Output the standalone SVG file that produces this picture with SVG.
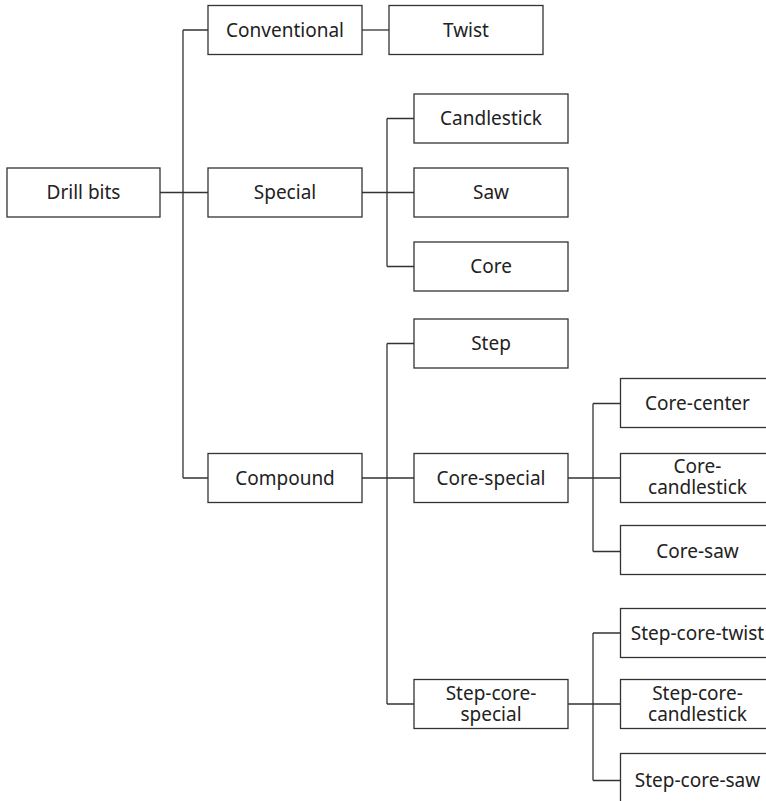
<svg xmlns="http://www.w3.org/2000/svg" width="766" height="801" viewBox="0 0 766 801">
  <style>
    .box { fill: #ffffff; stroke: #333333; stroke-width: 1.3; }
    .lbl { font-family: "Noto Sans", "Open Sans", sans-serif; font-size: 19px; fill: #222222; text-anchor: middle; }
    .wire { fill: none; stroke: #333333; stroke-width: 1.3; }
  </style>
  <rect width="766" height="801" fill="#ffffff"/>

  <!-- connectors -->
  <g id="connectors">
    <path class="wire" d="M160 192.5 H208 M183 30 V478 M183 30 H208 M183 478 H208"/>
    <path class="wire" d="M362 30 H389"/>
    <path class="wire" d="M362 192.5 H414 M387 118.5 V266.5 M387 118.5 H414 M387 266.5 H414"/>
    <path class="wire" d="M362 478 H414 M387 343.5 V704 M387 343.5 H414 M387 704 H414"/>
    <path class="wire" d="M568 478 H620.5 M593 403.5 V551.5 M593 403.5 H620.5 M593 551.5 H620.5"/>
    <path class="wire" d="M568 704 H620.5 M593 633 V780.5 M593 633 H620.5 M593 780.5 H620.5"/>
  </g>

  <!-- level 0 -->
  <g id="drill-bits"><rect class="box" x="7" y="168" width="153" height="49"/><text class="lbl" x="83.5" y="199">Drill bits</text></g>

  <!-- level 1 -->
  <g id="conventional"><rect class="box" x="208" y="5.5" width="154" height="49"/><text class="lbl" x="285" y="36.5">Conventional</text></g>
  <g id="special"><rect class="box" x="208" y="168" width="154" height="49"/><text class="lbl" x="285" y="199">Special</text></g>
  <g id="compound"><rect class="box" x="208" y="453.5" width="154" height="49"/><text class="lbl" x="285" y="484.5">Compound</text></g>

  <!-- level 2 -->
  <g id="twist"><rect class="box" x="389" y="5.5" width="154" height="49"/><text class="lbl" x="466" y="36.5">Twist</text></g>
  <g id="candlestick"><rect class="box" x="414" y="94" width="154" height="49"/><text class="lbl" x="491" y="125">Candlestick</text></g>
  <g id="saw"><rect class="box" x="414" y="168" width="154" height="49"/><text class="lbl" x="491" y="199">Saw</text></g>
  <g id="core"><rect class="box" x="414" y="242" width="154" height="49"/><text class="lbl" x="491" y="273">Core</text></g>
  <g id="step"><rect class="box" x="414" y="319" width="154" height="49"/><text class="lbl" x="491" y="350">Step</text></g>
  <g id="core-special"><rect class="box" x="414" y="453.5" width="154" height="49"/><text class="lbl" x="491" y="484.5">Core-special</text></g>
  <g id="step-core-special"><rect class="box" x="414" y="679.5" width="154" height="49"/><text class="lbl" x="491" y="700">Step-core-<tspan x="491" dy="20.5">special</tspan></text></g>

  <!-- level 3 -->
  <g id="core-center"><rect class="box" x="620.5" y="378.5" width="154" height="49"/><text class="lbl" x="697.5" y="409.5">Core-center</text></g>
  <g id="core-candlestick"><rect class="box" x="620.5" y="453.5" width="154" height="49"/><text class="lbl" x="697.5" y="473">Core-<tspan x="697.5" dy="20.5">candlestick</tspan></text></g>
  <g id="core-saw"><rect class="box" x="620.5" y="525.5" width="154" height="49"/><text class="lbl" x="697.5" y="557.5">Core-saw</text></g>
  <g id="step-core-twist"><rect class="box" x="620.5" y="608.5" width="154" height="49"/><text class="lbl" x="697.5" y="639.5">Step-core-twist</text></g>
  <g id="step-core-candlestick"><rect class="box" x="620.5" y="679.5" width="154" height="49"/><text class="lbl" x="697.5" y="700">Step-core-<tspan x="697.5" dy="20.5">candlestick</tspan></text></g>
  <g id="step-core-saw"><rect class="box" x="620.5" y="753.5" width="154" height="55"/><text class="lbl" x="697.5" y="787">Step-core-saw</text></g>
</svg>
